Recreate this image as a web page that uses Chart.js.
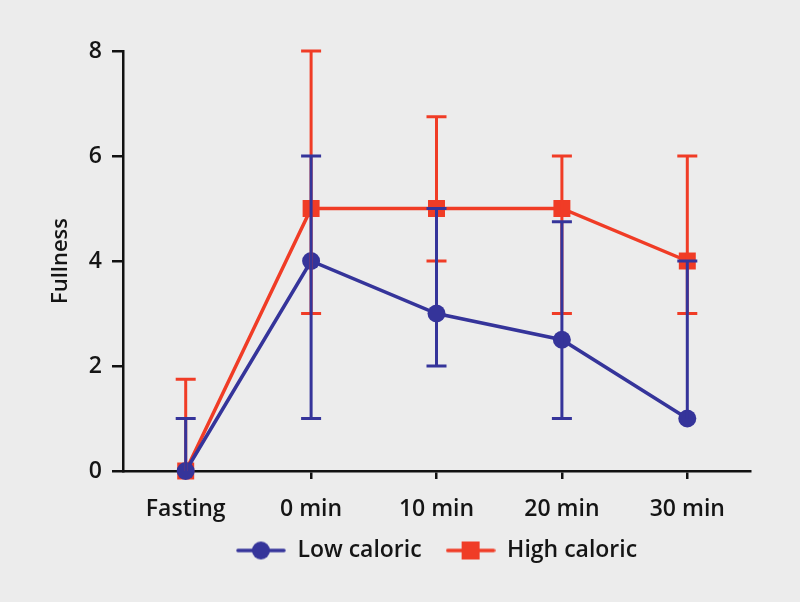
<!DOCTYPE html>
<html>
<head>
<meta charset="utf-8">
<script src="https://cdn.jsdelivr.net/npm/chart.js@4"></script>
<style>
  html, body { margin: 0; padding: 0; background: #ececec; }
  canvas { display: block; }
</style>
</head>
<body>
<canvas id="chartCanvas" width="800" height="602"></canvas>
<script>
// values
const categories = ['Fasting', '0 min', '10 min', '20 min', '30 min'];
const lowMean = [0, 4, 3, 2.5, 1];
const lowUpper = [1, 6, 5, 4.75, 4];
const lowLower = [0, 1, 2, 1, 1];
const highMean = [0, 5, 5, 5, 4];
const highUpper = [1.75, 8, 6.75, 6, 6];
const highLower = [0, 3, 4, 3, 3];
const yTicks = [0, 2, 4, 6, 8];

const blue = '#35349a';
const red = '#f03c26';
const textColor = '#151515';
const font = "'Open Sans', 'Noto Sans', sans-serif";

function legendIcon(color, shape) {
    const c = document.createElement('canvas');
    c.width = 50;
    c.height = 20;
    const g = c.getContext('2d');
    g.strokeStyle = color;
    g.lineWidth = 3.5;
    g.lineCap = 'round';
    g.beginPath();
    g.moveTo(2, 10);
    g.lineTo(48, 10);
    g.stroke();
    g.fillStyle = color;
    if (shape === 'circle') {
        g.beginPath();
        g.arc(25, 10, 9, 0, Math.PI * 2);
        g.fill();
    } else {
        g.fillRect(16, 1, 18, 18);
    }
    return c;
}

const errorBars = {
    id: 'errorBars',
    afterDatasetsDraw(chart) {
        const ctx = chart.ctx;
        const yScale = chart.scales.y;
        // red first so the blue bars sit on top
        [1, 0].forEach((i) => {
            const ds = chart.data.datasets[i];
            const meta = chart.getDatasetMeta(i);
            ctx.save();
            ctx.strokeStyle = ds.borderColor;
            ctx.lineWidth = 3;
            meta.data.forEach((pt, j) => {
                const x = pt.x;
                const yU = yScale.getPixelForValue(ds.upper[j]);
                const yL = yScale.getPixelForValue(ds.lower[j]);
                ctx.beginPath();
                ctx.moveTo(x, yU);
                ctx.lineTo(x, yL);
                ctx.moveTo(x - 10, yU);
                ctx.lineTo(x + 10, yU);
                if (ds.lower[j] < ds.data[j]) {
                    ctx.moveTo(x - 10, yL);
                    ctx.lineTo(x + 10, yL);
                }
                ctx.stroke();
            });
            ctx.restore();
        });
    }
};

// pull the legend up a bit closer to the tick labels
const legendShift = {
    id: 'legendShift',
    afterLayout(chart) {
        chart.legend.top -= 12;
        chart.legend.bottom -= 12;
    }
};

const ctx = document.getElementById('chartCanvas').getContext('2d');
new Chart(ctx, {
    type: 'line',
    data: {
        labels: categories,
        datasets: [
            {
                label: 'Low caloric',
                data: lowMean,
                upper: lowUpper,
                lower: lowLower,
                borderColor: blue,
                backgroundColor: blue,
                borderWidth: 3.5,
                pointStyle: 'circle',
                pointRadius: 9,
                pointHoverRadius: 9,
                pointBorderWidth: 0,
                clip: false
            },
            {
                label: 'High caloric',
                data: highMean,
                upper: highUpper,
                lower: highLower,
                borderColor: red,
                backgroundColor: red,
                borderWidth: 3.5,
                pointStyle: 'rect',
                pointRadius: 12,
                pointHoverRadius: 12,
                pointBorderWidth: 0,
                clip: false
            }
        ]
    },
    options: {
        responsive: false,
        animation: false,
        layout: {
            padding: { left: 0, top: 51, right: 50, bottom: 18 }
        },
        scales: {
            x: {
                offset: true,
                grid: {
                    display: true,
                    drawOnChartArea: false,
                    drawTicks: true,
                    tickLength: 8,
                    color: '#111',
                    lineWidth: 2.5
                },
                border: { display: true, color: '#111', width: 2.5 },
                ticks: {
                    color: textColor,
                    font: { family: font, size: 23, weight: '600' },
                    padding: 17,
                    maxRotation: 0
                },
                afterFit(scale) { scale.height = 56; }
            },
            y: {
                min: 0,
                max: 8,
                afterBuildTicks(scale) {
                    scale.ticks = yTicks.map((v) => ({ value: v }));
                },
                grid: {
                    display: true,
                    drawOnChartArea: false,
                    drawTicks: true,
                    tickLength: 11,
                    color: '#111',
                    lineWidth: 2.5
                },
                border: { display: true, color: '#111', width: 2.5 },
                ticks: {
                    color: textColor,
                    font: { family: font, size: 23, weight: '600' },
                    padding: 10
                },
                title: {
                    display: true,
                    text: 'Fullness',
                    color: textColor,
                    font: { family: font, size: 22, weight: '600' },
                    padding: { top: 48, bottom: 0 }
                },
                afterFit(scale) { scale.width = 123; }
            }
        },
        plugins: {
            legend: {
                position: 'bottom',
                fullSize: false,
                labels: {
                    usePointStyle: true,
                    pointStyleWidth: 50,
                    boxHeight: 20,
                    padding: 24,
                    color: textColor,
                    font: { family: font, size: 23, weight: '600' },
                    generateLabels(chart) {
                        return chart.data.datasets.map((ds, i) => ({
                            text: ds.label,
                            pointStyle: legendIcon(ds.borderColor, i === 0 ? 'circle' : 'rect'),
                            fillStyle: ds.borderColor,
                            strokeStyle: ds.borderColor,
                            lineWidth: 0,
                            fontColor: textColor,
                            hidden: false,
                            datasetIndex: i
                        }));
                    }
                }
            },
            tooltip: { enabled: false }
        }
    },
    plugins: [errorBars, legendShift]
});
</script>
</body>
</html>
